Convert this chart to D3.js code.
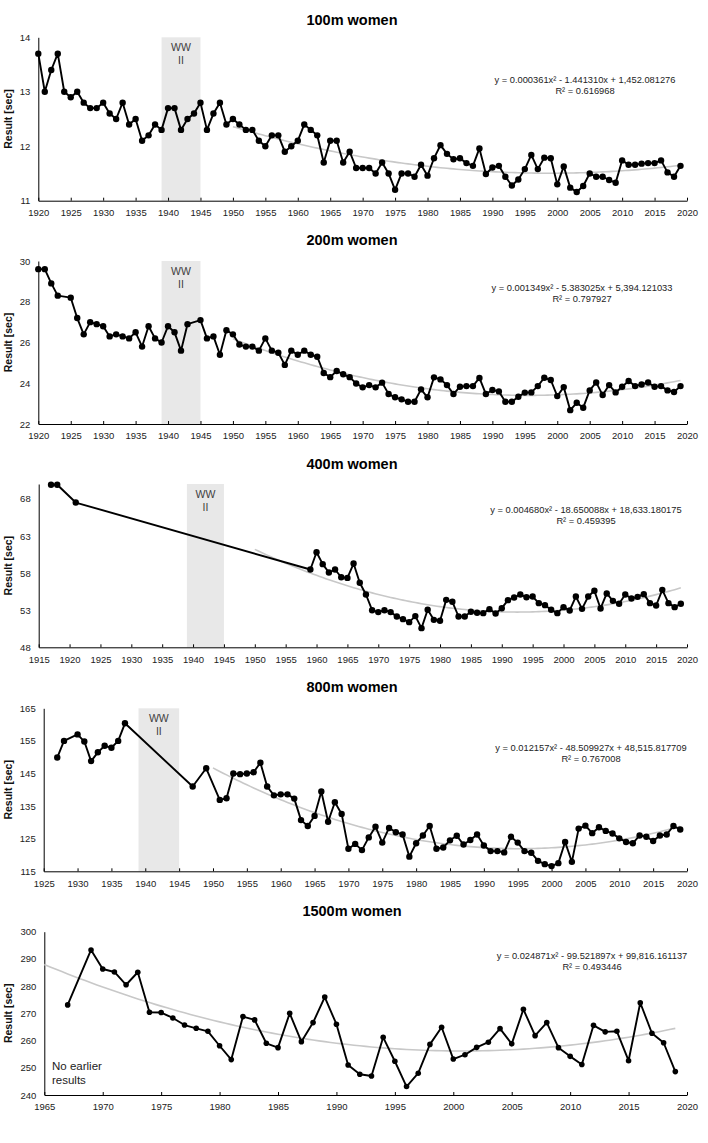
<!DOCTYPE html>
<html>
<head>
<meta charset="utf-8">
<script src="https://cdn.jsdelivr.net/npm/d3@7"></script>
<style>
  body { margin: 0; background: #fff; }
  svg { display: block; font-family: "Liberation Sans", Arial, sans-serif; }
</style>
</head>
<body>
<div id="chart"></div>
<script>
"use strict"

// [year, result in seconds]
const w100 = [
  [1920,13.7],[1921,13.0],[1922,13.4],[1923,13.7],[1924,13.0],[1925,12.9],[1926,13.0],[1927,12.8],[1928,12.7],[1929,12.7],
  [1930,12.8],[1931,12.6],[1932,12.5],[1933,12.8],[1934,12.4],[1935,12.5],[1936,12.1],[1937,12.2],[1938,12.4],[1939,12.3],
  [1940,12.7],[1941,12.7],[1942,12.3],[1943,12.5],[1944,12.6],[1945,12.8],[1946,12.3],[1947,12.6],[1948,12.8],[1949,12.4],
  [1950,12.5],[1951,12.4],[1952,12.3],[1953,12.3],[1954,12.1],[1955,12.0],[1956,12.2],[1957,12.2],[1958,11.9],[1959,12.0],
  [1960,12.1],[1961,12.4],[1962,12.3],[1963,12.2],[1964,11.7],[1965,12.1],[1966,12.1],[1967,11.7],[1968,11.9],[1969,11.6],
  [1970,11.6],[1971,11.6],[1972,11.5],[1973,11.7],[1974,11.5],[1975,11.2],[1976,11.5],[1977,11.5],[1978,11.44],[1979,11.66],
  [1980,11.46],[1981,11.78],[1982,12.02],[1983,11.86],[1984,11.76],[1985,11.78],[1986,11.69],[1987,11.64],[1988,11.96],[1989,11.49],
  [1990,11.61],[1991,11.64],[1992,11.44],[1993,11.28],[1994,11.39],[1995,11.58],[1996,11.84],[1997,11.58],[1998,11.79],[1999,11.78],
  [2000,11.30],[2001,11.63],[2002,11.24],[2003,11.16],[2004,11.27],[2005,11.50],[2006,11.44],[2007,11.44],[2008,11.38],[2009,11.33],
  [2010,11.74],[2011,11.66],[2012,11.66],[2013,11.68],[2014,11.69],[2015,11.69],[2016,11.74],[2017,11.52],[2018,11.44],[2019,11.64]
]

const w200 = [
  [1920,29.6],[1921,29.6],[1922,28.9],[1923,28.3],[1925,28.2],[1926,27.2],[1927,26.4],[1928,27.0],[1929,26.9],
  [1930,26.8],[1931,26.3],[1932,26.4],[1933,26.3],[1934,26.2],[1935,26.5],[1936,25.8],[1937,26.8],[1938,26.2],[1939,26.0],
  [1940,26.8],[1941,26.5],[1942,25.6],[1943,26.9],[1945,27.1],[1946,26.2],[1947,26.3],[1948,25.4],[1949,26.6],
  [1950,26.4],[1951,25.9],[1952,25.8],[1953,25.8],[1954,25.6],[1955,26.2],[1956,25.6],[1957,25.5],[1958,24.9],[1959,25.6],
  [1960,25.4],[1961,25.6],[1962,25.4],[1963,25.3],[1964,24.5],[1965,24.3],[1966,24.6],[1967,24.44],[1968,24.3],[1969,23.99],
  [1970,23.80],[1971,23.91],[1972,23.80],[1973,24.03],[1974,23.47],[1975,23.31],[1976,23.21],[1977,23.09],[1978,23.09],[1979,23.70],
  [1980,23.31],[1981,24.29],[1982,24.19],[1983,23.91],[1984,23.47],[1985,23.83],[1986,23.86],[1987,23.86],[1988,24.26],[1989,23.47],
  [1990,23.67],[1991,23.60],[1992,23.09],[1993,23.09],[1994,23.34],[1995,23.54],[1996,23.55],[1997,23.86],[1998,24.27],[1999,24.16],
  [2000,23.37],[2001,23.81],[2002,22.68],[2003,23.04],[2004,22.80],[2005,23.65],[2006,24.04],[2007,23.42],[2008,23.91],[2009,23.55],
  [2010,23.83],[2011,24.11],[2012,23.86],[2013,23.94],[2014,24.04],[2015,23.83],[2016,23.86],[2017,23.65],[2018,23.57],[2019,23.86]
]

const w400 = [
  [1917,69.9],[1918,69.9],[1921,67.5],
  [1959,58.48],[1960,60.8],[1961,59.2],[1962,58.07],[1963,58.48],[1964,57.44],[1965,57.35],[1966,59.28],[1967,56.7],[1968,55.11],[1969,53.0],
  [1970,52.74],[1971,53.0],[1972,52.74],[1973,52.15],[1974,51.79],[1975,51.39],[1976,52.2],[1977,50.58],[1978,53.05],[1979,51.7],
  [1980,51.57],[1981,54.39],[1982,54.13],[1983,52.15],[1984,52.15],[1985,52.78],[1986,52.65],[1987,52.6],[1988,53.14],[1989,52.56],
  [1990,53.27],[1991,54.35],[1992,54.71],[1993,55.11],[1994,54.75],[1995,54.84],[1996,53.95],[1997,53.68],[1998,53.05],[1999,52.6],
  [2000,53.41],[2001,52.96],[2002,54.84],[2003,53.18],[2004,54.84],[2005,55.61],[2006,53.23],[2007,55.25],[2008,54.26],[2009,53.86],
  [2010,55.11],[2011,54.57],[2012,54.8],[2013,55.16],[2014,53.95],[2015,53.63],[2016,55.74],[2017,53.95],[2018,53.41],[2019,53.86]
]

const w800 = [
  [1927,149.9],[1928,155.0],[1930,157.0],[1931,154.8],[1932,148.8],[1933,151.5],[1934,153.5],[1935,152.9],[1936,155.0],[1937,160.4],
  [1947,141.0],[1949,146.6],[1951,136.9],[1952,137.4],[1953,145.0],[1954,144.8],[1955,145.0],[1956,145.4],[1957,148.3],[1958,141.0],[1959,138.3],
  [1960,138.6],[1961,138.6],[1962,137.3],[1963,130.7],[1964,128.9],[1965,132.0],[1966,139.5],[1967,130.2],[1968,136.2],[1969,132.6],
  [1970,121.9],[1971,123.4],[1972,121.5],[1973,125.4],[1974,128.7],[1975,123.8],[1976,128.3],[1977,127.0],[1978,126.3],[1979,119.5],
  [1980,123.6],[1981,126.0],[1982,128.9],[1983,121.9],[1984,122.3],[1985,124.5],[1986,125.9],[1987,123.2],[1988,124.6],[1989,126.3],
  [1990,122.9],[1991,121.2],[1992,121.2],[1993,120.8],[1994,125.6],[1995,123.8],[1996,121.2],[1997,120.7],[1998,118.2],[1999,117.2],
  [2000,116.6],[2001,117.5],[2002,124.0],[2003,117.9],[2004,128.1],[2005,129.0],[2006,126.7],[2007,128.5],[2008,127.4],[2009,126.6],
  [2010,125.1],[2011,124.0],[2012,123.6],[2013,126.0],[2014,125.6],[2015,124.3],[2016,126.0],[2017,126.3],[2018,128.9],[2019,127.8]
]

const w1500 = [
  [1967,273.1],[1969,293.3],[1970,286.3],[1971,285.2],[1972,280.5],[1973,285.1],[1974,270.4],[1975,270.3],[1976,268.3],[1977,265.7],[1978,264.5],[1979,263.4],
  [1980,258.1],[1981,253.0],[1982,268.8],[1983,267.6],[1984,259.0],[1985,257.4],[1986,270.0],[1987,259.6],[1988,266.6],[1989,276.0],
  [1990,266.0],[1991,251.0],[1992,247.6],[1993,247.0],[1994,261.2],[1995,252.4],[1996,243.1],[1997,248.0],[1998,258.6],[1999,264.9],
  [2000,253.2],[2001,254.8],[2002,257.5],[2003,259.4],[2004,264.4],[2005,258.8],[2006,271.5],[2007,261.8],[2008,266.6],[2009,257.4],
  [2010,254.2],[2011,251.2],[2012,265.6],[2013,263.2],[2014,263.4],[2015,252.6],[2016,273.9],[2017,262.7],[2018,259.2],[2019,248.6]
]

const titles = ["100m women", "200m women", "400m women", "800m women", "1500m women"]
const equations = [
  ["y = 0.000361x² - 1.441310x + 1,452.081276", "R² = 0.616968"],
  ["y = 0.001349x² - 5.383025x + 5,394.121033", "R² = 0.797927"],
  ["y = 0.004680x² - 18.650088x + 18,633.180175", "R² = 0.459395"],
  ["y = 0.012157x² - 48.509927x + 48,515.817709", "R² = 0.767008"],
  ["y = 0.024871x² - 99.521897x + 99,816.161137", "R² = 0.493446"]
]
const yearDomains = [[1920, 2020], [1920, 2020], [1915, 2020], [1925, 2020], [1965, 2020]]
const resultDomains = [[11, 14], [22, 30], [48, 70], [115, 165], [240, 300]]
const resultTicks = [[11, 12, 13, 14], [22, 24, 26, 28, 30], [48, 53, 58, 63, 68], [115, 125, 135, 145, 155, 165], [240, 250, 260, 270, 280, 290, 300]]
const trendFrom = [1950, 1950, 1950, 1950, 1965]
const warYears = [1939, 1945]

// layout (pixels)
const layout = [
  {top: 37.3, bottom: 200.7, left: 38.3, titleY: 25, eqX: 585, eqY: 82.5, r: 3.2},
  {top: 261, bottom: 424, left: 38.3, titleY: 245, eqX: 582, eqY: 291, r: 3.2},
  {top: 484, bottom: 647.3, left: 38.7, titleY: 468.5, eqX: 586, eqY: 512.5, r: 3.2},
  {top: 708.3, bottom: 871.3, left: 43.7, titleY: 692, eqX: 591, eqY: 751, r: 3.2},
  {top: 931.7, bottom: 1095, left: 44.3, titleY: 916, eqX: 592, eqY: 959, r: 2.8}
]
const width = 708, height = 1143, right = 687

// least squares quadratic, centred on the mean year for stability
function quadFit(pts) {
  const xm = d3.mean(pts, d => d[0])
  let s = [0, 0, 0, 0, 0], t = [0, 0, 0]
  pts.forEach(([x, y]) => {
    const u = x - xm
    for (let k = 0; k < 5; k++) s[k] += u ** k
    for (let k = 0; k < 3; k++) t[k] += y * u ** k
  })
  const m = [[s[0], s[1], s[2]], [s[1], s[2], s[3]], [s[2], s[3], s[4]]]
  const det = a => a[0][0]*(a[1][1]*a[2][2]-a[1][2]*a[2][1]) - a[0][1]*(a[1][0]*a[2][2]-a[1][2]*a[2][0]) + a[0][2]*(a[1][0]*a[2][1]-a[1][1]*a[2][0])
  const D = det(m)
  const c = [0, 1, 2].map(j => det(m.map((row, i) => row.map((v, k) => k === j ? t[i] : v))) / D)
  return x => c[0] + c[1] * (x - xm) + c[2] * (x - xm) ** 2
}

const svg = d3.select("#chart").append("svg")
  .attr("width", width)
  .attr("height", height)
  .attr("viewBox", `0,0,${width},${height}`)

const events = [w100, w200, w400, w800, w1500]

events.forEach((data, i) => {
  const L = layout[i]
  const x = d3.scaleLinear().domain(yearDomains[i]).range([L.left, right])
  const y = d3.scaleLinear().domain(resultDomains[i]).range([L.bottom, L.top])
  const g = svg.append("g")

  // WW II band
  if (warYears[0] > yearDomains[i][0] && i < 4) {
    g.append("rect")
      .attr("x", x(warYears[0]))
      .attr("y", L.top)
      .attr("width", x(warYears[1]) - x(warYears[0]))
      .attr("height", L.bottom - L.top)
      .attr("fill", "#e8e8e8")
    const cx = (x(warYears[0]) + x(warYears[1])) / 2
    g.append("text").text("WW").attr("x", cx).attr("y", L.top + 13.5)
      .attr("text-anchor", "middle").attr("font-size", 10.5).attr("fill", "#404040")
    g.append("text").text("II").attr("x", cx).attr("y", L.top + 27)
      .attr("text-anchor", "middle").attr("font-size", 10.5).attr("fill", "#404040")
  }

  // axes
  const xAxis = d3.axisBottom(x)
    .tickValues(d3.range(yearDomains[i][0], yearDomains[i][1] + 1, 5))
    .tickFormat(d3.format("d"))
    .tickSizeInner(-3).tickSizeOuter(0).tickPadding(8.5)
  const yAxis = d3.axisLeft(y)
    .tickValues(resultTicks[i])
    .tickFormat(d3.format("d"))
    .tickSizeInner(0).tickSizeOuter(0).tickPadding(8)

  g.append("g").attr("transform", `translate(0,${L.bottom})`).call(xAxis)
    .call(a => a.selectAll("text").attr("font-size", 9.5).attr("fill", "#222").attr("font-family", null))
    .call(a => a.selectAll("path, line").attr("stroke", "#000"))
  g.append("g").attr("transform", `translate(${L.left},0)`).call(yAxis)
    .call(a => a.selectAll("text").attr("font-size", 9.5).attr("fill", "#222").attr("font-family", null))
    .call(a => a.select(".domain").attr("stroke", "#000"))

  // y label
  g.append("text")
    .text("Result [sec]")
    .attr("transform", `translate(12,${(L.top + L.bottom) / 2}) rotate(-90)`)
    .attr("text-anchor", "middle")
    .attr("font-size", 10.5)
    .attr("font-weight", "bold")
    .attr("fill", "#111")

  // title
  svg.append("text")
    .text(titles[i])
    .attr("x", 352)
    .attr("y", L.titleY)
    .attr("text-anchor", "middle")
    .attr("font-size", 14.5)
    .attr("font-weight", "bold")
    .attr("fill", "#000")

  // trend
  const fit = quadFit(data.filter(d => d[0] >= trendFrom[i]))
  const trendYears = d3.range(trendFrom[i], 2019.01, 0.5)
  g.append("path")
    .datum(trendYears)
    .attr("fill", "none")
    .attr("stroke", "#c8c8c8")
    .attr("stroke-width", 1.6)
    .attr("d", d3.line().x(d => x(d)).y(d => y(fit(d))))

  g.append("text").text(equations[i][0])
    .attr("x", L.eqX).attr("y", L.eqY)
    .attr("text-anchor", "middle").attr("font-size", 9.3).attr("fill", "#222")
  g.append("text").text(equations[i][1])
    .attr("x", L.eqX).attr("y", L.eqY + 11)
    .attr("text-anchor", "middle").attr("font-size", 9.3).attr("fill", "#222")

  // data
  g.append("path")
    .datum(data)
    .attr("fill", "none")
    .attr("stroke", "#000")
    .attr("stroke-width", 1.9)
    .attr("stroke-linejoin", "round")
    .attr("d", d3.line().x(d => x(d[0])).y(d => y(d[1])))

  g.selectAll("circle")
    .data(data)
    .enter()
    .append("circle")
    .attr("cx", d => x(d[0]))
    .attr("cy", d => y(d[1]))
    .attr("r", L.r)
    .attr("fill", "#000")

  if (i === 4) {
    g.append("text").text("No earlier").attr("x", 52).attr("y", 1070)
      .attr("font-size", 11.5).attr("fill", "#222")
    g.append("text").text("results").attr("x", 52).attr("y", 1084)
      .attr("font-size", 11.5).attr("fill", "#222")
  }
})
</script>
</body>
</html>
